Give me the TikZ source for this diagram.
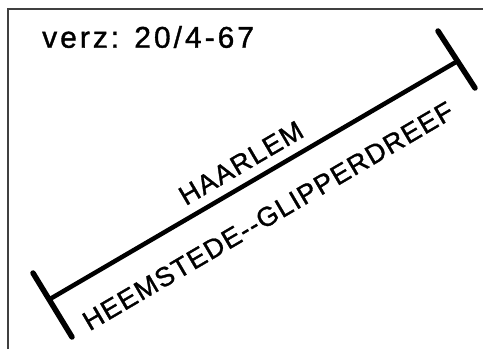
\documentclass[tikz,border=0pt]{standalone}
\usepackage{fontspec}
\setmainfont{Liberation Sans}
\begin{document}
\begin{tikzpicture}[x=1pt,y=-1pt,
  frameline/.style={draw=black!75,line width=1.2pt},
  bar/.style={line width=5.5pt,line cap=round},
  mainline/.style={line width=4.5pt,line cap=round},
  lbl/.style={inner sep=0pt,font=\fontsize{27}{27}\selectfont\addfontfeature{LetterSpace=5,FakeBold=1.2},rotate=30.4},
  note/.style={inner sep=0pt,anchor=west,font=\fontsize{30}{30}\selectfont\addfontfeature{LetterSpace=10,FakeBold=1.2}}]
\useasboundingbox[fill=white] (0,0) rectangle (483,349);
\coordinate (fa) at (8,349);
\coordinate (fb) at (8,9);
\coordinate (fc) at (483,9);
\draw[frameline] (fa) -- (fb) -- (fc);
\coordinate (l1) at (33,273);
\coordinate (l2) at (72,337);
\coordinate (r1) at (438,31);
\coordinate (r2) at (475,88);
\coordinate (a) at (50,299);
\coordinate (b) at (456,62);
\draw[bar] (l1) -- (l2);
\draw[bar] (r1) -- (r2);
\draw[mainline] (a) -- (b);
\node[note] (date) at (42,37) {verz: 20/4-67};
\node[lbl] (haarlem) at (241,163) {HAARLEM};
\node[lbl] (heem) at (268,216) {HEEMSTEDE-{}-GLIPPERDREEF};
\end{tikzpicture}
\end{document}
